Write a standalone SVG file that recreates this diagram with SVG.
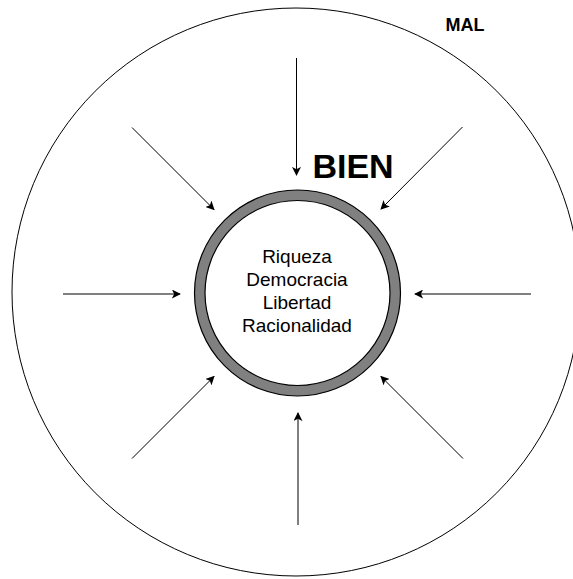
<svg xmlns="http://www.w3.org/2000/svg" width="573" height="579" viewBox="0 0 573 579">
<style>
.t{font-family:"Liberation Sans",Arial,Helvetica,sans-serif;fill:#000}
.c{stroke:#000;stroke-width:1;fill:none}
.a{stroke:#000;stroke-width:1;fill:none;marker-end:url(#ah)}
</style>
<defs>
<marker id="ah" viewBox="0 0 10 10" refX="9" refY="5" markerWidth="9" markerHeight="9" markerUnits="userSpaceOnUse" orient="auto">
<path d="M0,0 L10,5 L0,10 L2.5,5 Z" fill="#000"/>
</marker>
</defs>
<rect width="573" height="579" fill="#fff"/>
<g id="mal">
<circle cx="296" cy="292" r="284" class="c"/>
<text class="t" x="465" y="30.5" font-size="18" font-weight="bold" text-anchor="middle">MAL</text>
</g>
<g id="bien">
<circle cx="297.5" cy="293" r="103" fill="#808080" stroke="#000" stroke-width="1.2"/>
<circle cx="297.5" cy="293" r="92.5" fill="#fff" stroke="#000" stroke-width="1.2"/>
<text class="t" x="353" y="178" font-size="34" font-weight="bold" text-anchor="middle">BIEN</text>
<g class="t" font-size="19" text-anchor="middle">
<text x="297" y="262.5">Riqueza</text>
<text x="297" y="285.5">Democracia</text>
<text x="297" y="308.5">Libertad</text>
<text x="297" y="331.5">Racionalidad</text>
</g>
</g>
<g id="connectors">
<line class="a" x1="296.5" y1="58" x2="296.5" y2="175"/>
<line class="a" x1="298" y1="525" x2="298" y2="413"/>
<line class="a" x1="63" y1="294" x2="180" y2="294"/>
<line class="a" x1="531" y1="294" x2="415" y2="294"/>
<line class="a" x1="132" y1="127.5" x2="214" y2="209.5"/>
<line class="a" x1="462.5" y1="127" x2="381" y2="209"/>
<line class="a" x1="132" y1="458.5" x2="214" y2="376.5"/>
<line class="a" x1="463" y1="458.5" x2="381" y2="376.5"/>
</g>
</svg>
